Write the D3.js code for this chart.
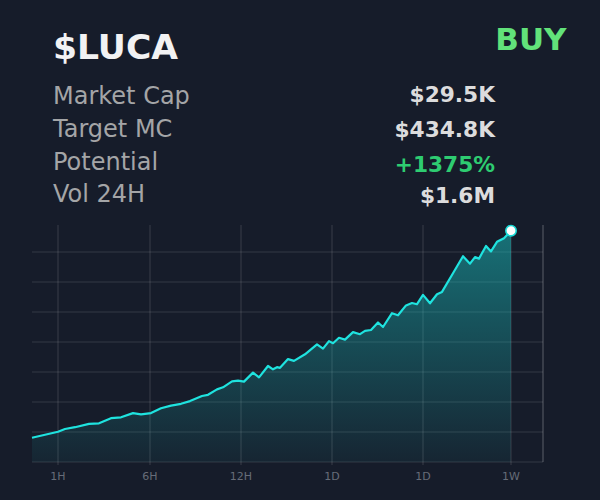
<!doctype html>
<html lang="en">
<head>
  <meta charset="utf-8">
  <title>$LUCA</title>
  <style>
    html, body { margin: 0; padding: 0; background: #161c2a; }
    svg { display: block; font-family: "DejaVu Sans", sans-serif; }
    .grid { stroke: #ffffff; stroke-opacity: 0.13; stroke-width: 1.2; }
    .tick-label { fill: #666c78; font-size: 11px; text-anchor: middle; }
    .stat-label { fill: #a4a5a7; font-size: 24px; }
    .stat-value { font-size: 21.7px; font-weight: bold; text-anchor: end; }
  </style>
</head>

<body>
  <div id="chart"></div>
  <script src="https://cdn.jsdelivr.net/npm/d3@7/dist/d3.min.js"></script>
  <script>
var title = "$LUCA";
var signal = "BUY";
var statLabels = ["Market Cap", "Target MC", "Potential", "Vol 24H"];
var statValues = ["$29.5K", "$434.8K", "+1375%", "$1.6M"];
var statColors = ["#dcdcdd", "#dcdcdd", "#2ecc71", "#dcdcdd"];

var tickLabels = ["1H", "6H", "12H", "1D", "1D", "1W"];
var tickTimes = [26, 118, 209, 300, 391, 479];
var gridLevels = [0, 5, 10, 15, 20, 25, 30, 35];

// time along the axis, price level
var times = [0, 26, 33, 43, 57, 67, 79, 89, 101, 109, 119, 129, 139, 149, 158, 170, 176, 185, 191, 200, 206,
  212, 221, 227, 236, 241, 245, 248, 256, 262, 273, 285, 291, 297, 301, 307, 313, 321, 328, 333, 339, 346,
  351, 360, 366, 374, 380, 385, 391, 398, 405, 410, 421, 431, 438, 443, 447, 454, 459, 465, 472, 479];
var values = [4.05, 5.05, 5.5, 5.8, 6.35, 6.45, 7.3, 7.45, 8.15, 7.95, 8.15, 8.95, 9.4, 9.7, 10.15, 11,
  11.2, 12.1, 12.45, 13.45, 13.55, 13.4, 14.9, 14.1, 16, 15.45, 15.8, 15.7, 17.15, 16.85, 17.95, 19.6, 18.9,
  20.15, 19.8, 20.7, 20.4, 21.65, 21.3, 21.85, 22, 23.25, 22.5, 24.8, 24.45, 26.1, 26.5, 26.3, 27.85, 26.45,
  27.95, 28.35, 31.45, 34.3, 33.05, 34.15, 33.9, 36, 35.1, 36.7, 37.3, 38.55];

var width = 600;
var height = 500;
var margin = { left: 32, right: 57, top: 225, bottom: 38 };

var x = d3.scaleLinear().domain([0, 479]).range([margin.left, 511]);
var y = d3.scaleLinear().domain([0, 39.5]).range([height - margin.bottom, margin.top]);

var svg = d3.select("#chart")
    .append("svg")
    .attr("width", width)
    .attr("height", height);

var grad = svg.append("defs").append("linearGradient")
    .attr("id", "fill")
    .attr("gradientUnits", "userSpaceOnUse")
    .attr("x1", 0).attr("x2", 0)
    .attr("y1", y(38.55)).attr("y2", y(0));
grad.append("stop").attr("offset", 0).attr("stop-color", "#19d8d4").attr("stop-opacity", 0.45);
grad.append("stop").attr("offset", 1).attr("stop-color", "#19d8d4").attr("stop-opacity", 0.05);

// header
svg.append("text").attr("x", 53).attr("y", 59)
    .attr("fill", "#f2f2f3").attr("font-size", 34.6).attr("font-weight", "bold").text(title);
svg.append("text").attr("x", 566.5).attr("y", 50).attr("text-anchor", "end")
    .attr("fill", "#62e27a").attr("font-size", 31).attr("font-weight", "bold").text(signal);

var labelBase = [104, 137, 170, 202];
var valueBase = [102, 137, 172, 203];
svg.selectAll(".stat-label").data(statLabels).enter().append("text")
    .attr("class", "stat-label")
    .attr("x", 53)
    .attr("y", function(d, i) { return labelBase[i]; })
    .text(function(d) { return d; });
svg.selectAll(".stat-value").data(statValues).enter().append("text")
    .attr("class", "stat-value")
    .attr("x", 495)
    .attr("y", function(d, i) { return valueBase[i]; })
    .attr("fill", function(d, i) { return statColors[i]; })
    .text(function(d) { return d; });

// grid
svg.selectAll(".h").data(gridLevels).enter().append("line")
    .attr("class", "grid h")
    .attr("x1", margin.left).attr("x2", width - margin.right)
    .attr("y1", function(d) { return y(d); }).attr("y2", function(d) { return y(d); });
svg.selectAll(".v").data(tickTimes).enter().append("line")
    .attr("class", "grid v")
    .attr("x1", function(d) { return x(d); }).attr("x2", function(d) { return x(d); })
    .attr("y1", margin.top).attr("y2", height - margin.bottom + 3);
svg.append("line").attr("class", "grid")
    .attr("x1", width - margin.right).attr("x2", width - margin.right)
    .attr("y1", margin.top).attr("y2", height - margin.bottom)
    .style("stroke-opacity", 0.25);

svg.selectAll(".tick-label").data(tickLabels).enter().append("text")
    .attr("class", "tick-label")
    .attr("x", function(d, i) { return x(tickTimes[i]); })
    .attr("y", 480)
    .text(function(d) { return d; });

// area + line
var area = d3.area()
    .x(function(d, i) { return x(times[i]); })
    .y0(y(0))
    .y1(function(d) { return y(d); });
var line = d3.line()
    .x(function(d, i) { return x(times[i]); })
    .y(function(d) { return y(d); });

svg.append("path").attr("d", area(values)).attr("fill", "url(#fill)");
svg.append("path").attr("d", line(values))
    .attr("fill", "none").attr("stroke", "#1fe3df").attr("stroke-width", 2.2)
    .attr("stroke-linejoin", "round");

svg.append("circle")
    .attr("cx", x(times[times.length - 1]))
    .attr("cy", y(values[values.length - 1]))
    .attr("r", 5.2)
    .attr("fill", "#ffffff")
    .attr("stroke", "#19d8d4")
    .attr("stroke-width", 1.6);
  </script>
</body>
</html>
